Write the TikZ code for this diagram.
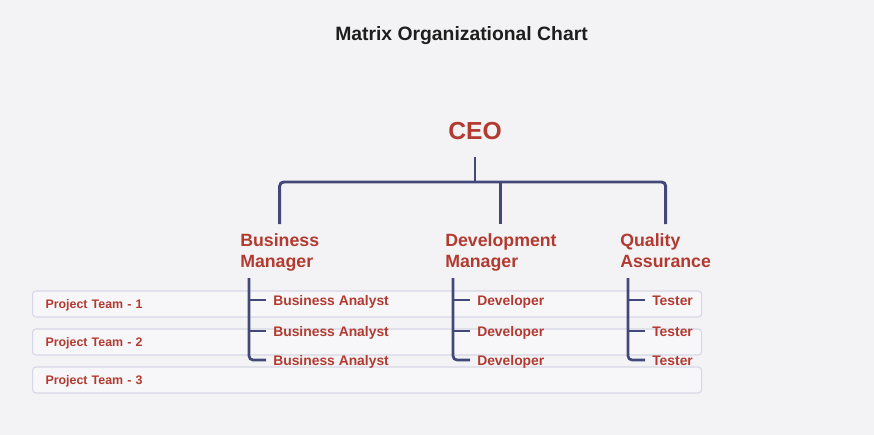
\documentclass[tikz,border=0pt]{standalone}
\usepackage{fontspec}
\setmainfont{Liberation Sans}
\definecolor{bgc}{HTML}{F3F3F5}
\definecolor{redc}{HTML}{B23A30}
\definecolor{linec}{HTML}{434879}
\definecolor{titlec}{HTML}{1E1E1E}
\definecolor{boxc}{HTML}{D6D7E6}
\definecolor{boxf}{HTML}{F7F7F9}
\begin{document}
\begin{tikzpicture}[x=0.75pt,y=-0.75pt,
  titlestyle/.style={font=\bfseries\fontsize{14.5}{17}\selectfont, text=titlec, anchor=base, inner sep=0pt},
  ceostyle/.style={font=\bfseries\fontsize{18.5}{22}\selectfont, text=redc, anchor=base, inner xsep=0pt, inner ysep=12.75pt},
  mgr/.style={font=\bfseries\fontsize{13.3}{15.75}\selectfont, text=redc, align=left, anchor=north west, inner xsep=0pt, inner ysep=7.1pt},
  leaf/.style={font=\bfseries\fontsize{10.4}{12}\selectfont, text=redc, anchor=west, inner xsep=5.25pt, inner ysep=0pt, text height=7.5pt, text depth=0pt},
  team/.style={draw=boxc, fill=boxf, rounded corners=2.5pt, line width=0.8pt, anchor=west, text width=482.25pt, inner xsep=9.75pt, minimum height=19.5pt, align=left, font=\bfseries\fontsize{9.3}{11}\selectfont, text=redc, text height=6.7pt, text depth=0pt},
  conn/.style={draw=linec, line width=2.2pt, rounded corners=3pt},
  sub/.style={draw=linec, line width=2pt, rounded corners=3pt}]
\fill[bgc] (0,0) rectangle (874,435);
\useasboundingbox (0,0) rectangle (874,435);
% project team boxes
\node[team] (pt1) at (32,304) {Project Team - 1};
\node[team] (pt2) at (32,342) {Project Team - 2};
\node[team] (pt3) at (32,380) {Project Team - 3};
% title
\node[titlestyle] (title) at (461.5,41) {Matrix Organizational Chart};
% ceo and managers
\node[ceostyle] (ceo) at (475,139) {CEO};
\node[mgr] (bm) at (240,224) {Business\\Manager};
\node[mgr] (dm) at (445,224) {Development\\Manager};
\node[mgr] (qa) at (620,224) {Quality\\Assurance};
\coordinate (bar) at (475,182);
\draw[conn] (bm.north) -- (bm.north |- bar) -- (qa.north |- bar) -- (qa.north);
\draw[conn] (dm.north) -- (dm.north |- bar);
\draw[conn] (ceo.south) -- (ceo.south |- bar);
% leaves
\node[leaf] (ba1) at (266,300) {Business Analyst};
\node[leaf] (ba2) at (266,331) {Business Analyst};
\node[leaf] (ba3) at (266,360) {Business Analyst};
\node[leaf] (dv1) at (470,300) {Developer};
\node[leaf] (dv2) at (470,331) {Developer};
\node[leaf] (dv3) at (470,360) {Developer};
\node[leaf] (ts1) at (645,300) {Tester};
\node[leaf] (ts2) at (645,331) {Tester};
\node[leaf] (ts3) at (645,360) {Tester};
\coordinate (bmt) at (249,278);
\coordinate (dmt) at (453,278);
\coordinate (qat) at (628,278);
\draw[sub] (bmt) |- (ba3.west);
\draw[sub] (bmt |- ba1.west) -- (ba1.west);
\draw[sub] (bmt |- ba2.west) -- (ba2.west);
\draw[sub] (dmt) |- (dv3.west);
\draw[sub] (dmt |- dv1.west) -- (dv1.west);
\draw[sub] (dmt |- dv2.west) -- (dv2.west);
\draw[sub] (qat) |- (ts3.west);
\draw[sub] (qat |- ts1.west) -- (ts1.west);
\draw[sub] (qat |- ts2.west) -- (ts2.west);
\end{tikzpicture}
\end{document}
